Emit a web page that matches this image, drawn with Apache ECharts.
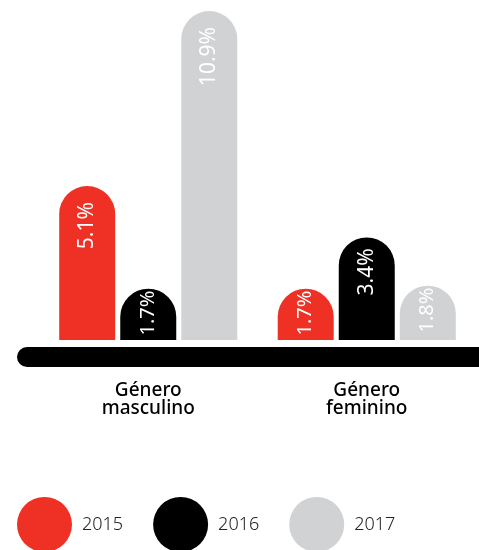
<!DOCTYPE html>
<html>
<head>
<meta charset="utf-8">
<script src="https://cdn.jsdelivr.net/npm/echarts@6/dist/echarts.min.js"></script>
<style>
  html, body { margin: 0; padding: 0; background: #fff; }
  #chart { width: 479px; height: 550px; }
</style>
</head>
<body>
<div id="chart"></div>
<script>
// Categories and yearly shares (%)
const categories = ['Género\nmasculino', 'Género\nfeminino'];
const years = ['2015', '2016', '2017'];
const values2015 = [5.1, 1.7];
const values2016 = [1.7, 3.4];
const values2017 = [10.9, 1.8];
const colors = ['#EE3124', '#000000', '#D1D2D4'];

const FONT = 'Noto Sans';
const seriesValues = [values2015, values2016, values2017];

// Short bars keep their value label tucked right under the rounded cap
function labelDistance(v) {
  if (v < 2) return 2;
  if (v < 5) return 11;
  return 16;
}

const chart = echarts.init(document.getElementById('chart'), null, { renderer: 'canvas' });

const series = years.map((year, i) => ({
  name: year,
  type: 'bar',
  xAxisIndex: 0,
  yAxisIndex: 0,
  data: seriesValues[i].map(v => ({
    value: v,
    label: { distance: labelDistance(v), fontSize: v < 2 ? 20 : 21 }
  })),
  barWidth: 56,
  barGap: '9%',
  itemStyle: { color: colors[i], borderRadius: [28, 28, 0, 0] },
  label: {
    show: true,
    position: 'insideTop',
    rotate: 90,
    align: 'right',
    verticalAlign: 'middle',
    color: '#ffffff',
    fontFamily: FONT,
    fontSize: 20,
    formatter: p => p.value.toFixed(1) + '%'
  }
}));

chart.setOption({
  animation: false,
  backgroundColor: '#ffffff',
  textStyle: { fontFamily: FONT },
  grid: [
    { left: 39, right: 3, top: 8, bottom: 210 },
    // thin strip carrying the heavy baseline
    { left: 27, right: -40, top: 300, bottom: 193 }
  ],
  legend: {
    data: years,
    left: 17,
    top: 497,
    padding: 0,
    icon: 'circle',
    itemWidth: 55,
    itemHeight: 55,
    itemGap: 30,
    textStyle: { fontFamily: FONT, fontSize: 18, fontWeight: 300, color: '#222', padding: [0, 0, 0, 5] }
  },
  xAxis: [
    {
      type: 'category',
      gridIndex: 0,
      data: categories,
      axisLine: { show: false },
      axisTick: { show: false },
      axisLabel: {
        margin: 42,
        color: '#000',
        fontFamily: FONT,
        fontSize: 19,
        fontWeight: 500,
        lineHeight: 18
      }
    },
    {
      type: 'value',
      gridIndex: 1,
      min: 0,
      max: 1,
      axisLine: { show: true, lineStyle: { color: '#000', width: 20, cap: 'round' } },
      axisTick: { show: false },
      axisLabel: { show: false },
      splitLine: { show: false }
    }
  ],
  yAxis: [
    { type: 'value', gridIndex: 0, min: 0, max: 11, show: false },
    { type: 'value', gridIndex: 1, show: false }
  ],
  series: series
});
</script>
</body>
</html>
